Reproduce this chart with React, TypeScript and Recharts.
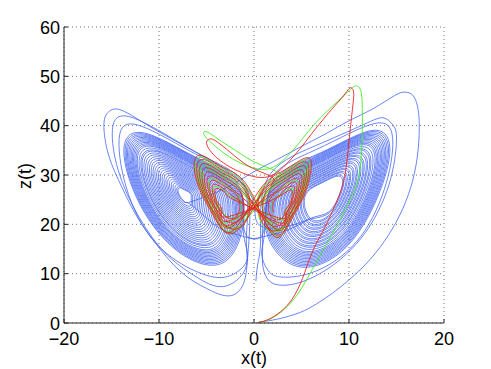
import React from 'react';
import { LineChart, Line, XAxis, YAxis, CartesianGrid } from 'recharts';

type P = [number, number];

// ---- axis ticks ----
const xTicks = [-20, -10, 0, 10, 20];
const zTicks = [0, 10, 20, 30, 40, 50, 60];

// ---- blue trajectory ----
const blueStart: P[] = [
  [0.6, 0.2], [2.5, 0.8], [4.8, 2.1], [6.6, 3.9], [8.3, 6.1], [10.1, 8.9], [11.9, 12.2], [13.7, 16.5],
  [15.3, 21.7], [16.5, 27.5], [17.2, 33.8], [17.4, 40.0], [17.2, 44.0], [16.7, 46.2], [15.9, 46.8],
  [14.8, 46.1], [12.5, 43.4], [10.0, 41.0], [7.5, 38.3], [5.0, 35.8], [2.5, 33.2], [0.3, 31.0],
  [-1.8, 28.6], [-3.8, 26.6], [-5.4, 25.4],
];

const blueLeftA: P[] = [
  [-6.88, 24.46], [-7.38, 24.74], [-7.82, 25.78], [-8.0, 26.99], [-7.76, 27.38], [-7.16, 26.83], [-6.66, 26.17], [-6.61, 25.18],
  [-6.69, 23.76], [-7.41, 24.16], [-8.05, 25.68], [-8.32, 27.44], [-7.97, 28.0], [-7.09, 27.2], [-6.37, 26.24], [-6.29, 24.8],
  [-6.46, 22.92], [-7.45, 23.47], [-8.33, 25.56], [-8.71, 27.98], [-8.22, 28.75], [-7.01, 27.65], [-6.02, 26.33], [-5.91, 24.35],
  [-6.24, 22.08], [-7.5, 22.78], [-8.62, 25.44], [-9.09, 28.52], [-8.48, 29.5], [-6.94, 28.1], [-5.68, 26.42], [-5.54, 23.9],
  [-6.01, 21.24], [-7.54, 22.09], [-8.9, 25.32], [-9.48, 29.06], [-8.73, 30.25], [-6.86, 28.55], [-5.33, 26.51], [-5.16, 23.45],
  [-5.78, 20.4], [-7.58, 21.4], [-9.18, 25.2], [-9.86, 29.6], [-8.98, 31.0], [-6.78, 29.0], [-4.98, 26.6], [-4.78, 23.0],
  [-5.55, 19.56], [-7.62, 20.71], [-9.46, 25.08], [-10.24, 30.14], [-9.23, 31.75], [-6.7, 29.45], [-4.63, 26.69], [-4.4, 22.55],
  [-5.32, 18.72], [-7.66, 20.02], [-9.74, 24.96], [-10.63, 30.68], [-9.48, 32.5], [-6.62, 29.9], [-4.28, 26.78], [-4.02, 22.1],
  [-5.1, 17.88], [-7.71, 19.33], [-10.03, 24.84], [-11.01, 31.22], [-9.74, 33.25], [-6.55, 30.35], [-3.94, 26.87], [-3.65, 21.65],
  [-4.87, 17.04], [-7.75, 18.64], [-10.31, 24.72], [-11.4, 31.76], [-9.99, 34.0], [-6.47, 30.8], [-3.59, 26.96], [-3.27, 21.2],
  [-4.64, 16.2], [-7.79, 17.95], [-10.59, 24.6], [-11.78, 32.3], [-10.24, 34.75], [-6.39, 31.25], [-3.24, 27.05], [-2.89, 20.75],
  [-4.45, 15.5], [-7.83, 17.38], [-10.83, 24.5], [-12.1, 32.75], [-10.45, 35.38], [-6.33, 31.63], [-2.95, 27.13], [-2.58, 20.38],
  [-4.26, 14.8], [-7.86, 16.8], [-11.06, 24.4], [-12.42, 33.2], [-10.66, 36.0], [-6.26, 32.0], [-2.66, 27.2], [-2.26, 20.0],
  [-4.11, 14.24], [-7.89, 16.34], [-11.25, 24.32], [-12.68, 33.56], [-10.83, 36.5], [-6.21, 32.3], [-2.43, 27.26], [-2.01, 19.7],
  [-3.96, 13.68], [-7.92, 15.88], [-11.44, 24.24], [-12.93, 33.92], [-11.0, 37.0], [-6.16, 32.6], [-2.2, 27.32], [-1.76, 19.4],
  [-3.8, 13.12], [-7.94, 15.42], [-11.62, 24.16], [-13.19, 34.28], [-11.16, 37.5], [-6.1, 32.9], [-1.96, 27.38], [-1.5, 19.1],
  [-3.65, 12.56], [-7.97, 14.96], [-11.81, 24.08], [-13.44, 34.64], [-11.33, 38.0], [-6.05, 33.2], [-1.73, 27.44], [-1.25, 18.8],
  [-3.5, 12.0], [-8.0, 14.5], [-12.0, 24.0], [-13.7, 35.0], [-11.5, 38.5], [-6.0, 33.5], [-1.5, 27.5], [-1.0, 18.5],
];

const blueCrossA: P[] = [[1.0, 17.5], [3.2, 18.6], [5.2, 20.4]];

const blueRightA: P[] = [
  [6.39, 21.51], [7.89, 22.56], [8.94, 25.71], [9.33, 28.71], [8.73, 29.76], [7.14, 28.41], [5.64, 26.61], [5.34, 23.61],
  [6.26, 20.8], [8.01, 22.02], [9.23, 25.7], [9.69, 29.2], [8.99, 30.42], [7.13, 28.85], [5.38, 26.75], [5.03, 23.25],
  [6.12, 20.08], [8.12, 21.48], [9.52, 25.68], [10.04, 29.68], [9.24, 31.08], [7.12, 29.28], [5.12, 26.88], [4.72, 22.88],
  [5.99, 19.37], [8.24, 20.94], [9.81, 25.67], [10.4, 30.17], [9.5, 31.74], [7.11, 29.72], [4.86, 27.02], [4.41, 22.52],
  [5.85, 18.65], [8.35, 20.4], [10.1, 25.65], [10.75, 30.65], [9.75, 32.4], [7.1, 30.15], [4.6, 27.15], [4.1, 22.15],
  [5.72, 17.94], [8.47, 19.86], [10.39, 25.64], [11.11, 31.14], [10.01, 33.06], [7.09, 30.59], [4.34, 27.29], [3.79, 21.79],
  [5.58, 17.22], [8.58, 19.32], [10.68, 25.62], [11.46, 31.62], [10.26, 33.72], [7.08, 31.02], [4.08, 27.42], [3.48, 21.42],
  [5.45, 16.51], [8.7, 18.78], [10.97, 25.61], [11.82, 32.11], [10.52, 34.38], [7.07, 31.46], [3.82, 27.56], [3.17, 21.06],
  [5.31, 15.79], [8.81, 18.24], [11.26, 25.59], [12.17, 32.59], [10.77, 35.04], [7.06, 31.89], [3.56, 27.69], [2.86, 20.69],
  [5.18, 15.08], [8.93, 17.7], [11.55, 25.58], [12.53, 33.08], [11.03, 35.7], [7.05, 32.33], [3.3, 27.83], [2.55, 20.33],
  [5.04, 14.36], [9.04, 17.16], [11.84, 25.56], [12.88, 33.56], [11.28, 36.36], [7.04, 32.76], [3.04, 27.96], [2.24, 19.96],
  [4.93, 13.79], [9.13, 16.73], [12.07, 25.55], [13.16, 33.95], [11.48, 36.89], [7.03, 33.11], [2.83, 28.07], [1.99, 19.67],
  [4.82, 13.22], [9.22, 16.3], [12.3, 25.54], [13.45, 34.34], [11.69, 37.42], [7.02, 33.46], [2.62, 28.18], [1.74, 19.38],
  [4.72, 12.64], [9.32, 15.86], [12.54, 25.52], [13.73, 34.72], [11.89, 37.94], [7.02, 33.8], [2.42, 28.28], [1.5, 19.08],
  [4.61, 12.07], [9.41, 15.43], [12.77, 25.51], [14.02, 35.11], [12.1, 38.47], [7.01, 34.15], [2.21, 28.39], [1.25, 18.79],
  [4.5, 11.5], [9.5, 15.0], [13.0, 25.5], [14.3, 35.5], [12.3, 39.0], [7.0, 34.5], [2.0, 28.5], [1.0, 18.5],
];

const blueCrossB: P[] = [[-1.0, 17.5], [-3.4, 19.0], [-5.3, 21.8]];

const blueLeftB: P[] = [
  [-6.81, 24.18], [-7.39, 24.51], [-7.91, 25.74], [-8.13, 27.17], [-7.85, 27.63], [-7.13, 26.98], [-6.55, 26.2], [-6.48, 25.03],
  [-6.58, 23.34], [-7.43, 23.82], [-8.19, 25.62], [-8.52, 27.71], [-8.1, 28.38], [-7.05, 27.43], [-6.2, 26.29], [-6.1, 24.58],
  [-6.35, 22.5], [-7.48, 23.13], [-8.48, 25.5], [-8.9, 28.25], [-8.35, 29.13], [-6.98, 27.88], [-5.85, 26.38], [-5.73, 24.13],
  [-6.12, 21.66], [-7.52, 22.44], [-8.76, 25.38], [-9.28, 28.79], [-8.6, 29.88], [-6.9, 28.33], [-5.5, 26.47], [-5.35, 23.68],
  [-5.89, 20.82], [-7.56, 21.75], [-9.04, 25.26], [-9.67, 29.33], [-8.85, 30.63], [-6.82, 28.78], [-5.15, 26.56], [-4.97, 23.23],
  [-5.67, 19.98], [-7.6, 21.06], [-9.32, 25.14], [-10.05, 29.87], [-9.11, 31.38], [-6.74, 29.23], [-4.81, 26.65], [-4.59, 22.78],
  [-5.44, 19.14], [-7.64, 20.37], [-9.6, 25.02], [-10.44, 30.41], [-9.36, 32.13], [-6.66, 29.68], [-4.46, 26.74], [-4.21, 22.33],
  [-5.21, 18.3], [-7.69, 19.68], [-9.89, 24.9], [-10.82, 30.95], [-9.61, 32.88], [-6.59, 30.13], [-4.11, 26.83], [-3.84, 21.88],
  [-4.98, 17.46], [-7.73, 18.99], [-10.17, 24.78], [-11.2, 31.49], [-9.86, 33.63], [-6.51, 30.58], [-3.76, 26.92], [-3.46, 21.43],
  [-4.75, 16.62], [-7.77, 18.3], [-10.45, 24.66], [-11.59, 32.03], [-10.11, 34.38], [-6.43, 31.03], [-3.41, 27.0], [-3.08, 20.98],
  [-4.56, 15.92], [-7.8, 17.72], [-10.68, 24.56], [-11.91, 32.48], [-10.32, 35.0], [-6.36, 31.4], [-3.12, 27.08], [-2.76, 20.6],
  [-4.34, 15.08], [-7.85, 17.03], [-10.97, 24.44], [-12.29, 33.02], [-10.58, 35.75], [-6.29, 31.85], [-2.78, 27.17], [-2.39, 20.15],
  [-4.18, 14.52], [-7.87, 16.57], [-11.15, 24.36], [-12.55, 33.38], [-10.74, 36.25], [-6.23, 32.15], [-2.54, 27.23], [-2.13, 19.85],
  [-4.03, 13.96], [-7.9, 16.11], [-11.34, 24.28], [-12.8, 33.74], [-10.91, 36.75], [-6.18, 32.45], [-2.31, 27.29], [-1.88, 19.55],
  [-3.88, 13.4], [-7.93, 15.65], [-11.53, 24.2], [-13.06, 34.1], [-11.08, 37.25], [-6.13, 32.75], [-2.08, 27.35], [-1.63, 19.25],
  [-3.73, 12.84], [-7.96, 15.19], [-11.72, 24.12], [-13.32, 34.46], [-11.25, 37.75], [-6.08, 33.05], [-1.85, 27.41], [-1.38, 18.95],
  [-3.58, 12.28], [-7.99, 14.73], [-11.91, 24.04], [-13.57, 34.82], [-11.42, 38.25], [-6.03, 33.35], [-1.62, 27.47], [-1.13, 18.65],
];

const blueLeftOuter: P[] = [
  [-0.7, 13.0],
  [-2.5, 9.6], [-5.5, 10.0], [-10.0, 15.5], [-13.2, 26.0], [-14.2, 37.2], [-12.0, 40.0], [-5.8, 33.9], [-1.1, 27.7], [-0.8, 17.5], [-0.9, 11.0],
  [-3.2, 7.4], [-6.2, 9.5], [-9.5, 14.5], [-12.4, 22.5], [-14.3, 31.0], [-14.9, 39.2], [-12.6, 41.5], [-5.5, 34.0], [-0.9, 27.5], [-0.6, 15.0], [-1.1, 8.0],
  [-2.6, 5.5], [-5.0, 7.0], [-7.6, 10.2], [-10.1, 15.5], [-12.3, 21.5], [-13.9, 27.5], [-15.3, 34.0], [-15.8, 40.2], [-15.3, 42.8],
  [-13.9, 43.1], [-10.5, 39.3], [-5.2, 33.6], [-0.6, 26.8], [0.2, 21.0], [1.6, 19.2], [3.6, 19.6], [5.2, 20.6],
];

const blueRightB: P[] = [
  [6.34, 21.22], [7.94, 22.34], [9.06, 25.7], [9.47, 28.9], [8.83, 30.02], [7.14, 28.58], [5.54, 26.66], [5.22, 23.46],
  [6.2, 20.51], [8.05, 21.8], [9.35, 25.69], [9.83, 29.39], [9.09, 30.68], [7.13, 29.02], [5.28, 26.8], [4.91, 23.1],
  [6.07, 19.79], [8.17, 21.26], [9.64, 25.67], [10.18, 29.87], [9.34, 31.34], [7.12, 29.45], [5.02, 26.93], [4.6, 22.73],
  [5.93, 19.08], [8.28, 20.72], [9.93, 25.66], [10.54, 30.36], [9.6, 32.0], [7.11, 29.89], [4.76, 27.07], [4.29, 22.37],
  [5.8, 18.36], [8.4, 20.18], [10.22, 25.64], [10.89, 30.84], [9.85, 32.66], [7.1, 30.32], [4.5, 27.2], [3.98, 22.0],
  [5.66, 17.65], [8.51, 19.64], [10.51, 25.63], [11.25, 31.33], [10.11, 33.32], [7.09, 30.76], [4.24, 27.34], [3.67, 21.64],
  [5.53, 16.93], [8.63, 19.1], [10.8, 25.61], [11.6, 31.81], [10.36, 33.98], [7.08, 31.19], [3.98, 27.47], [3.36, 21.27],
  [5.39, 16.22], [8.74, 18.56], [11.09, 25.6], [11.96, 32.3], [10.62, 34.64], [7.07, 31.63], [3.72, 27.61], [3.05, 20.91],
  [5.26, 15.5], [8.86, 18.02], [11.38, 25.58], [12.31, 32.78], [10.87, 35.3], [7.06, 32.06], [3.46, 27.74], [2.74, 20.54],
  [5.09, 14.65], [8.99, 17.38], [11.72, 25.57], [12.74, 33.37], [11.18, 36.1], [7.04, 32.59], [3.14, 27.91], [2.36, 20.11],
  [4.99, 14.07], [9.09, 16.94], [11.96, 25.55], [13.02, 33.75], [11.38, 36.62], [7.04, 32.93], [2.94, 28.01], [2.12, 19.81],
  [4.88, 13.5], [9.18, 16.51], [12.19, 25.54], [13.31, 34.14], [11.59, 37.15], [7.03, 33.28], [2.73, 28.12], [1.87, 19.52],
  [4.77, 12.93], [9.27, 16.08], [12.42, 25.53], [13.59, 34.53], [11.79, 37.68], [7.02, 33.63], [2.52, 28.23], [1.62, 19.23],
  [4.66, 12.36], [9.36, 15.65], [12.65, 25.52], [13.87, 34.92], [11.99, 38.21], [7.01, 33.98], [2.31, 28.34], [1.37, 18.94],
  [4.55, 11.79], [9.45, 15.22], [12.88, 25.51], [14.16, 35.31], [12.2, 38.74], [7.0, 34.33], [2.1, 28.45], [1.12, 18.65],
];

const blueRightOuter: P[] = [
  [0.8, 14.0], [1.5, 10.6],
  [3.0, 9.3], [6.5, 10.5], [10.8, 16.5], [13.7, 27.0], [14.6, 37.2], [12.6, 40.4], [6.6, 35.2], [1.6, 28.7], [0.9, 17.0], [0.9, 12.0], [1.4, 9.0],
  [2.6, 7.7], [4.8, 8.2], [8.0, 11.3], [11.6, 18.0], [14.2, 28.0], [15.0, 37.0], [14.6, 40.2], [13.6, 41.6], [11.5, 40.2],
  [6.3, 35.8], [1.4, 29.2], [0.7, 17.5], [0.4, 12.0], [0.2, 8.5],
];

// ---- green trajectory ----
const greenStart: P[] = [
  [0.5, 0.1], [1.8, 0.9], [3.2, 2.8], [4.5, 5.6], [5.6, 9.0], [6.7, 12.8], [7.8, 16.6], [9.0, 20.8], [10.2, 25.3],
  [11.0, 29.5], [11.3, 34.0], [11.4, 39.0], [11.4, 43.5], [11.3, 46.6], [11.0, 47.9], [10.6, 48.0], [10.2, 47.5],
  [9.8, 46.7], [8.4, 44.2], [7.0, 41.6], [5.7, 38.8], [4.5, 35.9], [3.4, 33.6], [2.4, 32.0], [1.4, 31.2], [0.2, 31.3],
  [-1.4, 32.4], [-3.0, 34.2], [-4.3, 36.2], [-5.1, 37.7], [-5.3, 38.6], [-4.9, 38.7], [-3.8, 37.3], [-2.2, 35.3],
  [-0.4, 33.1], [1.3, 31.6], [2.3, 30.8], [2.8, 29.8], [2.3, 28.4], [1.0, 25.5],
];
const greenLoops: P[] = [
  [-2.23, 18.41], [-4.15, 21.58], [-5.49, 26.38], [-6.16, 31.18], [-5.49, 33.58], [-3.19, 31.18], [-0.69, 27.34],
  [2.04, 18.02], [3.76, 20.61], [5.11, 25.41], [5.88, 30.69], [5.4, 33.09], [3.19, 30.69], [0.69, 26.85], [0.6, 21.09],
  [2.11, 18.46], [3.69, 20.84], [4.92, 25.24], [5.63, 30.08], [5.19, 32.28], [3.16, 30.08], [0.88, 26.56],
  [-2.28, 18.84], [-4.04, 21.74], [-5.28, 26.14], [-5.89, 30.54], [-5.28, 32.74], [-3.16, 30.54], [-0.88, 27.02], [-0.79, 21.3],
  [-2.34, 19.26], [-3.94, 21.9], [-5.06, 25.9], [-5.62, 29.9], [-5.06, 31.9], [-3.14, 29.9], [-1.06, 26.7],
  [2.18, 18.9], [3.62, 21.06], [4.74, 25.06], [5.38, 29.46], [4.98, 31.46], [3.14, 29.46], [1.06, 26.26],
  [-2.4, 19.68], [-3.84, 22.06], [-4.84, 25.66], [-5.35, 29.26], [-4.84, 31.06], [-3.12, 29.26], [-1.24, 26.38],
  [2.25, 19.34], [3.55, 21.28], [4.56, 24.88], [5.13, 28.84], [4.77, 30.64], [3.12, 28.84], [1.24, 25.96], [1.17, 21.64],
  [2.4, 20.22], [3.4, 21.73], [4.19, 24.53], [4.64, 27.61], [4.36, 29.01], [3.07, 27.61], [1.61, 25.37],
  [-2.51, 20.53], [-3.63, 22.38], [-4.41, 25.18], [-4.8, 27.98], [-4.41, 29.38], [-3.07, 27.98], [-1.61, 25.74], [-1.56, 22.1],
  [-2.62, 21.38], [-3.42, 22.7], [-3.98, 24.7], [-4.26, 26.7], [-3.98, 27.7], [-3.02, 26.7], [-1.98, 25.1],
  [2.54, 21.1], [3.26, 22.18], [3.82, 24.18], [4.14, 26.38], [3.94, 27.38], [3.02, 26.38], [1.98, 24.78], [1.94, 22.38],
];

// ---- red trajectory ----
const redStart: P[] = [
  [0.4, 0.1], [1.5, 0.7], [2.8, 2.3], [4.0, 4.8], [5.1, 9.0], [6.1, 14.2], [7.2, 18.4], [8.2, 22.4], [9.2, 27.1],
  [9.7, 31.5], [9.95, 35.9], [10.2, 40.5], [10.4, 44.0], [10.5, 46.6], [10.3, 47.6], [10.0, 47.5],
  [9.4, 46.0], [8.4, 43.8], [7.3, 41.3], [6.0, 38.2], [4.8, 35.2], [3.6, 32.6], [2.5, 30.6], [1.4, 29.6], [0.2, 29.6],
  [-1.2, 30.4], [-2.6, 31.7], [-3.8, 33.3], [-4.6, 34.9], [-5.0, 36.4], [-4.8, 37.2], [-4.1, 37.0], [-2.5, 34.6],
  [-0.9, 32.2], [0.5, 30.8], [1.6, 29.9], [2.1, 28.8], [1.2, 27.4], [0.3, 24.5],
];
const redLoops: P[] = [
  [-2.2, 18.2], [-4.2, 21.5], [-5.6, 26.5], [-6.3, 31.5], [-5.6, 34.0], [-3.2, 31.5], [-0.6, 27.5],
  [2.0, 17.8], [3.8, 20.5], [5.2, 25.5], [6.0, 31.0], [5.5, 33.5], [3.2, 31.0], [0.6, 27.0],
  [-2.26, 18.62], [-4.1, 21.66], [-5.38, 26.26], [-6.03, 30.86], [-5.38, 33.16], [-3.18, 30.86], [-0.78, 27.18], [-0.69, 21.2],
  [-2.31, 19.05], [-3.99, 21.82], [-5.17, 26.02], [-5.76, 30.22], [-5.17, 32.32], [-3.15, 30.22], [-0.97, 26.86],
  [2.07, 18.24], [3.73, 20.72], [5.02, 25.32], [5.75, 30.38], [5.29, 32.68], [3.18, 30.38], [0.78, 26.7], [0.69, 21.18],
  [2.14, 18.68], [3.66, 20.95], [4.83, 25.15], [5.5, 29.77], [5.08, 31.87], [3.15, 29.77], [0.97, 26.41],
  [-2.37, 19.47], [-3.89, 21.98], [-4.95, 25.78], [-5.48, 29.58], [-4.95, 31.48], [-3.13, 29.58], [-1.15, 26.54],
  [2.22, 19.12], [3.58, 21.17], [4.65, 24.97], [5.26, 29.15], [4.88, 31.05], [3.13, 29.15], [1.15, 26.11], [1.08, 21.55],
  [2.29, 19.56], [3.51, 21.4], [4.46, 24.8], [5.01, 28.54], [4.67, 30.24], [3.1, 28.54], [1.34, 25.82],
  [-2.42, 19.9], [-3.78, 22.14], [-4.74, 25.54], [-5.21, 28.94], [-4.74, 30.64], [-3.1, 28.94], [-1.34, 26.22], [-1.27, 21.8],
  [-2.48, 20.32], [-3.68, 22.3], [-4.52, 25.3], [-4.94, 28.3], [-4.52, 29.8], [-3.08, 28.3], [-1.52, 25.9],
  [2.36, 20.0], [3.44, 21.62], [4.28, 24.62], [4.76, 27.92], [4.46, 29.42], [3.08, 27.92], [1.52, 25.52],
  [-2.54, 20.74], [-3.58, 22.46], [-4.3, 25.06], [-4.67, 27.66], [-4.3, 28.96], [-3.06, 27.66], [-1.7, 25.58], [-1.65, 22.2],
  [-2.59, 21.17], [-3.47, 22.62], [-4.09, 24.82], [-4.4, 27.02], [-4.09, 28.12], [-3.03, 27.02], [-1.89, 25.26],
  [2.43, 20.44], [3.37, 21.84], [4.1, 24.44], [4.51, 27.3], [4.25, 28.6], [3.06, 27.3], [1.7, 25.22], [1.65, 22.1],
  [2.5, 20.88], [3.3, 22.07], [3.91, 24.27], [4.26, 26.69], [4.04, 27.79], [3.03, 26.69], [1.89, 24.93],
  [-2.65, 21.59], [-3.37, 22.78], [-3.87, 24.58], [-4.12, 26.38], [-3.87, 27.28], [-3.01, 26.38], [-2.07, 24.94],
  [2.58, 21.32], [3.22, 22.29], [3.73, 24.09], [4.02, 26.07], [3.84, 26.97], [3.01, 26.07], [2.07, 24.63], [2.04, 22.47],
];

const toPts = (a: P[]) => a.map(([x, z]) => ({ x, z }));
const bluePts = toPts([
  ...blueStart, ...blueLeftA, ...blueCrossA, ...blueRightA, ...blueCrossB,
  ...blueLeftB, ...blueLeftOuter, ...blueRightB, ...blueRightOuter,
]);
const greenPts = toPts([...greenStart, ...greenLoops]);
const redPts = toPts([...redStart, ...redLoops]);

const FONT = '"Liberation Sans", Arial, Helvetica, sans-serif';
const fmt = (v: number) => (v < 0 ? '\u2212' + Math.abs(v) : String(v));
const TICK = '#222';

const BottomTick = (props: any) => {
  const { x, y, payload } = props;
  return (
    <g>
      <line x1={x} x2={x} y1={y} y2={y - 4} stroke={TICK} />
      <text x={x} y={y + 22} textAnchor="middle" fontSize={18} fontFamily={FONT} fill="#000">
        {fmt(payload.value)}
      </text>
    </g>
  );
};
const TopTick = (props: any) => {
  const { x, y } = props;
  return <line x1={x} x2={x} y1={y} y2={y + 4} stroke={TICK} />;
};
const LeftTick = (props: any) => {
  const { x, y, payload } = props;
  return (
    <g>
      <line x1={x} x2={x + 4} y1={y} y2={y} stroke={TICK} />
      <text x={x - 4} y={y + 6.5} textAnchor="end" fontSize={18} fontFamily={FONT} fill="#000">
        {fmt(payload.value)}
      </text>
    </g>
  );
};
const RightTick = (props: any) => {
  const { x, y } = props;
  return <line x1={x} x2={x - 4} y1={y} y2={y} stroke={TICK} />;
};

const XLabel = (props: any) => {
  const vb = props.viewBox || { x: 64, y: 323, width: 380, height: 46 };
  return (
    <text x={vb.x + vb.width / 2} y={vb.y + 41} textAnchor="middle" fontSize={18} fontFamily={FONT} fill="#000">
      x(t)
    </text>
  );
};
const ZLabel = (props: any) => {
  const vb = props.viewBox || { x: 0, y: 27, width: 64, height: 296 };
  const cx = 25;
  const cy = vb.y + vb.height / 2 + 1;
  return (
    <text x={cx} y={cy} transform={`rotate(-90, ${cx}, ${cy})`} textAnchor="middle" dominantBaseline="central"
      fontSize={18} fontFamily={FONT} fill="#000">
      z(t)
    </text>
  );
};

export default function App() {
  return (
    <div style={{ position: 'absolute', left: 0, top: 0, background: '#fff' }}>
      <LineChart width={491} height={369} margin={{ top: 27, right: 47, left: 0, bottom: 0 }}>
        <CartesianGrid stroke="#777" strokeDasharray="1 3" strokeWidth={1} />
        <XAxis dataKey="x" type="number" domain={[-20, 20]} ticks={xTicks} allowDataOverflow height={46}
          tickSize={0} tickMargin={0} tickLine={false} tick={<BottomTick />} axisLine={{ stroke: TICK }}
          label={<XLabel />} />
        <XAxis xAxisId="top" orientation="top" dataKey="x" type="number" domain={[-20, 20]} ticks={xTicks}
          allowDataOverflow height={0} tickSize={0} tickMargin={0} tickLine={false} tick={<TopTick />}
          axisLine={{ stroke: TICK }} />
        <YAxis type="number" domain={[0, 60]} ticks={zTicks} allowDataOverflow width={64}
          tickSize={0} tickMargin={0} tickLine={false} tick={<LeftTick />} axisLine={{ stroke: TICK }}
          label={<ZLabel />} />
        <YAxis yAxisId="right" orientation="right" type="number" domain={[0, 60]} ticks={zTicks} allowDataOverflow
          width={0} tickSize={0} tickMargin={0} tickLine={false} tick={<RightTick />} axisLine={{ stroke: TICK }} />
        <Line data={bluePts} dataKey="z" type="natural" stroke="#3a5cf2" strokeWidth={0.75} dot={false}
          activeDot={false} isAnimationActive={false} />
        <Line data={greenPts} dataKey="z" type="natural" stroke="#44ee22" strokeWidth={0.9} dot={false}
          activeDot={false} isAnimationActive={false} />
        <Line data={redPts} dataKey="z" type="natural" stroke="#ee2222" strokeWidth={0.9} dot={false}
          activeDot={false} isAnimationActive={false} />
      </LineChart>
    </div>
  );
}
